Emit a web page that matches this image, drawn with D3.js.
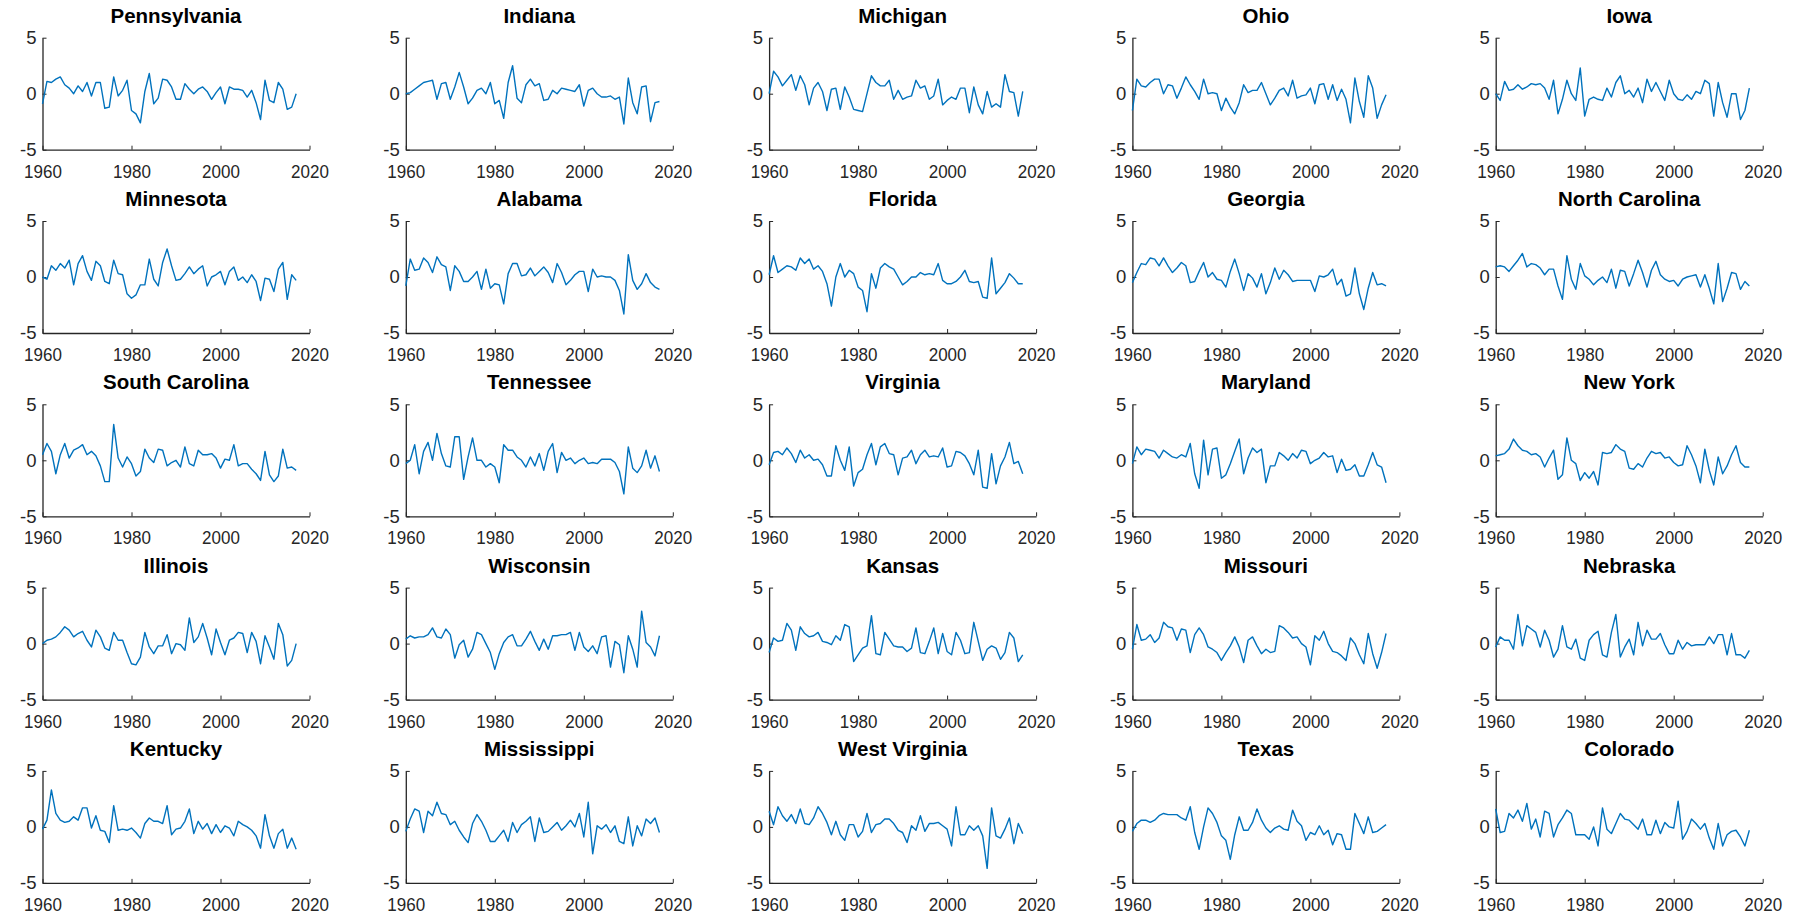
<!DOCTYPE html>
<html>
    <head>
        <meta charset="utf-8">
        <title>State series</title>
        <style>
            body { margin: 0; background: #fff; }
        </style>
    </head>
    <body>
        <svg id="chart"></svg>

        <script src="https://d3js.org/d3.v7.min.js"></script>

        <script>
            // anos: 1960 .. 2017
            const years = d3.range(1960, 2018);
            const xTicks = [1960, 1980, 2000, 2020];
            const yTicks = [-5, 0, 5];

            const states = ["Pennsylvania", "Indiana", "Michigan", "Ohio", "Iowa",
                            "Minnesota", "Alabama", "Florida", "Georgia", "North Carolina",
                            "South Carolina", "Tennessee", "Virginia", "Maryland", "New York",
                            "Illinois", "Wisconsin", "Kansas", "Missouri", "Nebraska",
                            "Kentucky", "Mississippi", "West Virginia", "Texas", "Colorado"];

            const pennsylvania = [-0.9, 1.1, 1.0, 1.3, 1.5, 0.8, 0.5, 0.0, 0.7, 0.2,
                                  1.0, -0.2, 1.0, 1.0, -1.3, -1.2, 1.5, -0.2, 0.3, 1.2,
                                  -1.5, -1.8, -2.6, 0.2, 1.8, -0.9, -0.4, 1.3, 1.2, 0.6,
                                  -0.5, -0.5, 0.9, 0.4, 0.0, 0.4, 0.6, 0.2, -0.5, 0.1,
                                  0.6, -0.9, 0.6, 0.4, 0.4, 0.3, -0.3, 0.3, -0.8, -2.3,
                                  1.2, -0.6, -0.8, 1.0, 0.4, -1.4, -1.2, 0.0];
            const indiana = [0.0, 0.1, 0.4, 0.7, 1.0, 1.1, 1.2, -0.5, 0.9, 1.0,
                             -0.5, 0.6, 1.9, 0.6, -0.9, -0.4, 0.3, 0.5, 0.0, 1.0,
                             -0.9, -0.6, -2.2, 1.0, 2.5, -0.4, -0.8, 0.8, 1.3, 0.7,
                             0.9, -0.6, -0.5, 0.3, 0.0, 0.5, 0.4, 0.3, 0.2, 0.8,
                             -1.1, 0.3, 0.5, 0.0, -0.3, -0.3, -0.2, -0.5, -0.3, -2.7,
                             1.4, -0.8, -1.8, 0.6, 0.7, -2.5, -0.8, -0.7];
            const michigan = [0.0, 2.0, 1.5, 0.7, 1.2, 1.7, 0.3, 1.6, 0.8, -1.0,
                              0.5, 1.0, 0.2, -1.5, 0.4, 0.5, -1.4, 0.6, -0.3, -1.4,
                              -1.5, -1.6, 0.0, 1.6, 1.0, 0.7, 0.7, 1.2, -0.5, 0.3,
                              -0.5, -0.3, -0.2, 1.2, 0.5, 0.7, -0.5, -0.2, 1.3, -1.0,
                              -0.6, -0.3, -0.5, 0.5, 0.5, -1.7, 0.6, -1.0, -1.8, 0.2,
                              -1.2, -0.9, -1.2, 1.7, 0.2, 0.1, -2.0, 0.2];
            const ohio = [-1.5, 1.3, 0.7, 0.6, 1.0, 1.3, 1.3, 0.0, 0.8, 0.7,
                          -0.4, 0.5, 1.5, 0.8, 0.2, -0.5, 1.3, 0.0, 0.1, 0.0,
                          -1.5, -0.4, -1.2, -1.8, -0.8, 0.8, 0.1, 0.3, 0.3, 1.0,
                          0.0, -1.0, -0.4, 0.3, 0.5, -0.2, 1.2, -0.4, -0.2, -0.1,
                          0.5, -0.9, 0.8, 0.9, -0.5, 0.8, -0.6, 0.4, -0.5, -2.6,
                          1.4, -0.7, -2.1, 1.6, 0.5, -2.2, -1.0, -0.1];
            const iowa = [0.0, -0.6, 1.1, 0.3, 0.4, 0.8, 0.4, 0.6, 0.9, 0.8,
                          0.9, 0.5, -0.5, 1.2, -1.8, -0.5, 1.2, 0.0, -0.6, 2.3,
                          -2.0, -0.5, -0.3, -0.5, -0.6, 0.5, -0.3, 1.0, 1.6, 0.0,
                          0.3, -0.3, 0.5, -0.8, 1.3, 0.2, 1.0, 0.2, -0.6, 1.2,
                          0.0, -0.5, -0.6, -0.1, -0.5, 0.2, 0.0, 1.2, 0.9, -2.0,
                          1.0, -0.8, -2.1, 0.0, 0.0, -2.3, -1.5, 0.5];
            const minnesota = [0.0, -0.2, 1.0, 0.6, 1.2, 0.8, 1.5, -0.7, 1.2, 1.9,
                               0.5, -0.3, 1.4, 1.0, -0.4, -0.6, 1.5, 0.3, 0.2, -1.5,
                               -1.9, -1.6, -0.7, -0.7, 1.6, -0.2, -0.8, 1.3, 2.5, 1.0,
                               -0.3, -0.2, 0.3, 0.9, 0.3, 0.7, 1.0, -0.8, 0.0, 0.2,
                               0.5, -0.7, 0.5, 0.9, -0.3, 0.0, -0.5, 0.2, -0.4, -2.1,
                               -0.1, -0.2, -1.3, 0.7, 1.3, -2.0, 0.2, -0.3];
            const alabama = [-0.8, 1.6, 0.6, 0.7, 1.7, 1.3, 0.4, 1.8, 1.1, 0.9,
                             -1.2, 1.0, 0.5, -0.4, -0.4, 0.0, 0.5, -1.1, 0.7, -1.0,
                             -0.6, -0.7, -2.4, 0.3, 1.2, 1.2, 0.1, 0.2, 0.8, 0.1,
                             0.5, 0.9, 0.4, -0.5, 1.2, 0.4, -0.7, -0.3, 0.2, 0.5,
                             0.5, -1.3, 0.7, 0.0, 0.1, 0.0, 0.0, -0.3, -1.2, -3.3,
                             2.0, -0.3, -1.1, -0.6, 0.3, -0.5, -0.9, -1.1];
            const florida = [0.2, 1.9, 0.4, 0.7, 1.0, 0.9, 0.6, 1.7, 1.2, 1.6,
                             0.7, 1.0, 0.5, -0.6, -2.6, 0.0, 1.2, 0.0, 0.6, 0.3,
                             -0.9, -1.2, -3.1, 0.3, -1.0, 0.8, 1.2, 0.9, 0.7, 0.0,
                             -0.7, -0.4, 0.0, 0.0, 0.4, 0.2, 0.3, 0.2, 1.2, -0.3,
                             -0.6, -0.6, -0.4, 0.0, 0.6, -0.4, -0.5, -0.4, -1.8, -1.9,
                             1.7, -1.5, -1.0, -0.5, 0.3, -0.1, -0.6, -0.6];
            const georgia = [-0.5, 0.4, 1.2, 1.1, 1.7, 1.6, 1.0, 1.7, 1.0, 0.4,
                             0.8, 1.3, 1.0, -0.5, -0.4, 0.5, 1.3, 0.0, 0.4, -0.2,
                             -0.3, -0.9, 0.5, 1.6, 0.3, -1.2, 0.3, -0.1, -0.9, 0.3,
                             -1.5, -0.5, 0.8, -0.2, 0.6, 0.2, -0.4, -0.3, -0.3, -0.3,
                             -0.3, -1.3, 0.1, 0.0, 0.2, 0.7, -0.7, -0.2, -1.7, -1.5,
                             0.8, -1.5, -2.9, -1.0, 0.4, -0.7, -0.6, -0.8];
            const northCarolina = [0.9, 1.0, 0.9, 0.5, 1.0, 1.5, 2.1, 0.9, 1.2, 1.1,
                                   0.8, 0.2, 0.7, 0.7, -0.8, -2.0, 1.9, -0.2, -1.1, 1.2,
                                   0.1, -0.2, -0.7, -0.3, 0.0, -0.5, 0.7, -1.0, 0.6, 0.5,
                                   -0.8, 0.3, 1.5, 0.4, -0.9, 0.6, 1.4, 0.2, -0.2, -0.4,
                                   -0.3, -0.8, -0.2, 0.0, 0.1, 0.2, -0.9, 0.2, -1.0, -2.4,
                                   1.2, -2.2, -1.0, 0.4, 0.3, -1.1, -0.4, -0.8];
            const southCarolina = [0.5, 1.5, 0.8, -1.2, 0.5, 1.5, 0.2, 0.9, 1.1, 1.4,
                                   0.5, 0.8, 0.4, -0.5, -1.9, -1.9, 3.2, 0.2, -0.6, 0.3,
                                   -0.3, -1.4, -1.0, 1.0, 0.2, -0.2, 1.0, 0.9, -0.5, -0.2,
                                   0.0, -0.6, 1.2, -0.3, -0.5, 0.9, 0.5, 0.5, 0.6, 0.2,
                                   -0.7, 0.1, 0.0, 1.4, -0.5, -0.3, -0.3, -0.8, -1.2, -1.8,
                                   0.8, -1.3, -1.9, -1.4, 1.0, -0.7, -0.6, -0.9];
            const tennessee = [-0.3, 0.0, 1.4, -1.2, 0.8, 1.6, 0.0, 2.4, 0.6, -0.5,
                               -0.6, 2.1, 2.1, -1.7, 0.3, 2.0, 0.0, 0.0, -0.6, -0.3,
                               -0.6, -2.0, 1.4, 0.9, 0.9, 0.3, 0.0, -0.6, 0.3, -0.5,
                               0.6, -0.9, 0.8, 1.5, -1.1, 0.7, 0.0, 0.2, -0.3, 0.0,
                               0.2, -0.3, -0.2, -0.3, 0.1, 0.1, 0.1, -0.2, -1.0, -3.0,
                               1.2, -0.7, -1.1, -0.5, 0.9, -0.7, 0.4, -1.0];
            const virginia = [-0.4, 0.7, 0.8, 0.5, 1.1, 0.6, -0.2, 0.9, 0.2, 0.5,
                              0.0, 0.1, -0.4, -1.4, -1.4, 1.3, 0.0, -0.9, 1.2, -2.3,
                              -1.1, -0.8, 0.5, 1.5, -0.4, 1.2, 1.5, 0.6, 0.5, -1.3,
                              0.2, 0.3, 0.9, -0.3, 0.5, 0.9, 0.3, 0.4, 0.3, 1.1,
                              -0.6, -0.5, 0.8, 0.7, 0.4, -0.3, -1.3, 0.9, -2.4, -2.5,
                              0.6, -2.1, -0.5, 0.3, 1.6, -0.3, -0.1, -1.2];
            const maryland = [-0.3, 1.2, 0.5, 1.0, 0.9, 0.8, 0.2, 0.9, 0.6, 0.3,
                              0.2, 0.5, 0.3, 1.5, -1.2, -2.5, 1.8, -1.3, 1.0, 1.1,
                              -1.6, -1.3, -0.3, 0.8, 1.9, -1.2, 0.2, 1.1, 0.7, 1.0,
                              -2.0, -0.5, -0.5, 0.7, 0.4, 0.0, 0.6, 0.2, 0.9, 0.8,
                              -0.3, 0.0, 0.2, 0.7, 0.3, 0.4, -1.1, 0.1, -0.9, -0.8,
                              -0.4, -1.4, -1.4, -0.4, 0.7, -0.4, -0.6, -2.0];
            const newYork = [0.4, 0.5, 0.6, 1.0, 1.9, 1.3, 0.9, 0.8, 0.5, 0.6,
                             0.3, -0.6, 0.2, 0.9, -1.7, -1.3, 2.0, 0.0, -0.3, -1.8,
                             -1.1, -1.6, -1.0, -2.2, 0.7, 0.6, 0.7, 1.4, 1.0, 0.8,
                             -0.7, -0.8, -0.3, -0.6, 0.2, 0.8, 0.6, 0.7, 0.2, 0.3,
                             -0.2, -0.5, -0.4, 1.3, 0.5, -0.5, -2.0, 1.0, -0.9, -2.2,
                             0.3, -1.2, -0.5, 0.5, 1.3, -0.2, -0.6, -0.6];
            const illinois = [0.0, 0.3, 0.4, 0.6, 1.0, 1.5, 1.2, 0.6, 0.9, 1.1,
                              0.3, -0.3, 1.2, 0.6, -0.4, -0.6, 1.0, 0.3, 0.3, -0.8,
                              -1.8, -1.9, -1.2, 1.0, -0.3, -0.9, -0.2, -0.2, 0.8, -0.9,
                              0.0, -0.1, -0.6, 2.3, 0.1, 0.6, 1.8, 0.5, -1.0, 1.3,
                              0.1, -1.0, 0.3, 0.5, 1.0, 0.9, -0.8, 1.0, 0.2, -1.8,
                              0.7, -0.3, -1.4, 1.8, 0.8, -2.0, -1.5, 0.0];
            const wisconsin = [0.4, 0.7, 0.5, 0.6, 0.6, 0.8, 1.4, 0.6, 0.5, 1.3,
                               0.8, -1.3, -0.1, 0.3, -1.2, -0.5, 1.0, 0.8, 0.0, -0.8,
                               -2.3, -0.9, 0.1, 0.6, 0.8, -0.2, -0.2, 0.4, 1.1, 0.2,
                               -0.6, 0.4, -0.5, 0.7, 0.7, 0.8, 0.8, 1.0, -0.6, 1.0,
                               -0.3, -0.7, -0.2, -0.9, 0.6, 0.7, -2.1, 0.2, -0.1, -2.6,
                               0.7, -0.5, -2.1, 2.9, 0.1, -0.3, -1.1, 0.7];
            const kansas = [-0.8, 0.5, 0.2, 0.3, 1.8, 1.2, -0.6, 1.5, 0.9, 0.6,
                            0.7, 1.0, 0.2, 0.1, -0.1, 0.7, 0.3, 1.7, 1.5, -1.6,
                            -1.0, -0.4, -0.2, 2.5, -0.9, -1.0, 1.0, 0.4, -0.2, -0.3,
                            -0.3, -0.7, -0.4, 1.4, -0.8, -0.9, 0.2, 1.4, -0.9, 0.9,
                            -0.7, -1.0, 1.0, 0.3, -0.9, -0.8, 1.9, 0.2, -1.5, -0.5,
                            -0.2, -0.4, -1.4, -0.8, 1.0, 0.5, -1.6, -1.0];
            const missouri = [-0.5, 1.7, 0.3, 0.4, 0.8, 0.1, 0.5, 1.9, 1.5, 1.4,
                              0.3, 1.3, 1.2, -0.8, 0.8, 1.4, 0.8, -0.3, -0.5, -0.8,
                              -1.5, -0.8, -0.2, 0.6, -0.3, -1.7, 0.3, 0.6, -0.2, -0.9,
                              -0.5, -0.8, -0.7, 1.6, 1.4, 1.0, 0.5, 0.6, 0.0, -0.3,
                              -1.9, 0.7, 0.3, 1.1, 0.0, -0.7, -0.8, -1.1, -1.5, 0.5,
                              0.0, -1.0, -1.8, 0.9, -0.9, -2.2, -0.8, 0.9];
            const nebraska = [-0.3, 0.6, 0.3, 0.3, -0.5, 2.6, -0.2, 1.6, 1.3, 1.0,
                              -0.3, 1.2, 0.3, -1.2, -0.5, 1.6, -0.3, -0.5, 0.4, -1.3,
                              -1.5, 0.3, 0.8, 1.1, -1.0, -1.2, 1.0, 2.6, -1.2, -0.3,
                              0.4, -1.0, 1.9, -0.2, 1.2, 0.4, 0.4, 0.9, -0.1, -0.9,
                              -0.9, 0.3, -0.5, 0.1, -0.2, -0.1, -0.1, -0.1, 0.6, 0.0,
                              0.8, 0.8, -1.0, 0.9, -1.0, -1.0, -1.3, -0.6];
            const kentucky = [-0.2, 0.6, 3.3, 1.2, 0.6, 0.4, 0.5, 0.9, 0.6, 1.7,
                              1.7, -0.1, 1.0, -0.3, -0.4, -1.4, 1.9, -0.3, -0.2, -0.3,
                              -0.1, -0.5, -1.0, 0.3, 0.8, 0.5, 0.5, 0.3, 1.9, -0.7,
                              -0.2, -0.1, 0.5, 1.6, -0.6, 0.5, -0.2, 0.3, -0.6, 0.2,
                              -0.5, 0.1, -0.1, -0.8, 0.5, 0.2, 0.0, -0.3, -0.8, -1.9,
                              1.1, -0.8, -1.9, -0.6, -0.2, -1.9, -1.0, -2.0];
            const mississippi = [-0.4, 0.7, 1.6, 1.4, -0.5, 1.4, 1.0, 2.2, 1.2, 1.1,
                                 0.2, 0.5, -0.3, -0.9, -1.4, 0.3, 1.1, 0.5, -0.3, -1.3,
                                 -1.3, -0.8, -0.3, -1.3, 0.4, -0.5, 0.2, 0.5, 0.9, -1.3,
                                 0.8, -0.5, -0.4, 0.0, 0.4, -0.3, 0.1, 0.6, 0.0, 1.2,
                                 -0.9, 2.2, -2.4, 0.1, -0.2, 0.2, -0.5, 0.1, -1.3, -1.5,
                                 0.9, -1.7, 0.1, -0.8, 0.7, 0.3, 0.8, -0.5];
            const westVirginia = [1.4, 0.2, 1.8, 1.0, 0.5, 1.1, 0.3, 1.6, 0.3, 0.2,
                                  0.8, 1.8, 1.2, 0.4, -0.7, 0.5, -0.7, -1.2, 0.2, 0.2,
                                  -0.9, -0.4, 1.2, -0.5, 0.2, 0.3, 0.7, 0.7, 0.3, -0.3,
                                  -0.5, -1.4, 0.1, -0.3, 1.0, -0.4, 0.3, 0.3, 0.4, 0.1,
                                  -0.2, -1.7, 1.8, -0.7, -0.7, 0.1, -0.3, 0.1, -0.8, -3.7,
                                  1.7, -0.8, -1.0, -0.2, 0.8, -1.5, 0.3, -0.6];
            const texas = [-0.4, 0.3, 0.6, 0.6, 0.4, 0.6, 1.0, 1.2, 1.1, 1.1,
                           1.1, 0.8, 0.6, 1.8, -0.5, -2.0, 0.0, 1.7, 1.2, 0.4,
                           -0.8, -1.2, -2.9, -0.7, 0.9, -0.3, -0.3, 0.4, 1.6, 0.6,
                           -0.1, -0.5, -0.1, 0.1, -0.2, -0.3, 1.5, 0.5, 0.1, -1.2,
                           -0.5, -0.7, 0.1, -0.7, -0.3, -1.6, -0.6, -0.7, -2.0, -2.0,
                           1.2, 0.3, -0.6, 0.9, -0.5, -0.4, -0.1, 0.2];
            const colorado = [1.6, -0.5, -0.4, 1.2, 0.8, 1.5, 0.5, 2.1, -0.2, 0.7,
                              -0.9, 1.4, 1.2, -0.9, 0.2, 0.8, 1.5, 1.2, -0.7, -0.7,
                              -0.7, -1.1, 0.0, -1.7, 1.7, -0.2, -0.6, 0.3, 1.2, 0.7,
                              0.6, 0.2, -0.2, 0.7, -0.7, -0.7, 0.6, -0.6, 0.4, 0.0,
                              -0.1, 2.3, -1.1, -0.4, 0.7, 0.3, -0.2, 0.3, -1.0, -2.0,
                              0.3, -1.7, -0.7, -0.4, -0.3, -0.9, -1.7, -0.3];

            const values = [pennsylvania, indiana, michigan, ohio, iowa,
                            minnesota, alabama, florida, georgia, northCarolina,
                            southCarolina, tennessee, virginia, maryland, newYork,
                            illinois, wisconsin, kansas, missouri, nebraska,
                            kentucky, mississippi, westVirginia, texas, colorado];

            const W = 1803, H = 921;
            const colStep = 363.3, rowStep = 183.3;
            const left0 = 42.5, top0 = 37.7;
            const w = 267, h = 112;
            const axisColor = "#262626";
            const lineColor = "#0072bd";

            const svg = d3.select("#chart")
                .attr("width", W)
                .attr("height", H)
                .style("font-family", "'Liberation Sans', Arial, sans-serif");

            const x = d3.scaleLinear().domain([1960, 2020]).range([0, w]);
            const y = d3.scaleLinear().domain([-5, 5]).range([h, 0]);

            const line = d3.line()
                .x((d, i) => x(years[i]))
                .y(d => y(d));

            states.forEach((name, i) => {
                const col = i % 5, row = Math.floor(i / 5);
                const g = svg.append("g")
                    .attr("transform", `translate(${left0 + col * colStep},${top0 + row * rowStep})`);

                // eixo x
                const gx = g.append("g")
                    .attr("transform", `translate(0,${h})`)
                    .call(d3.axisBottom(x)
                        .tickValues(xTicks)
                        .tickFormat(d => String(d))
                        .tickSizeInner(-4)
                        .tickSizeOuter(0)
                        .tickPadding(15));

                // eixo y (hífen simples, como no original)
                const gy = g.append("g")
                    .call(d3.axisLeft(y)
                        .tickValues(yTicks)
                        .tickFormat(d => String(d))
                        .tickSizeInner(-4)
                        .tickSizeOuter(0)
                        .tickPadding(6));

                [gx, gy].forEach(a => {
                    a.attr("font-family", null).attr("font-size", null);
                    a.select(".domain").attr("stroke", axisColor).attr("stroke-width", 1.3);
                    a.selectAll(".tick line").attr("stroke", axisColor);
                });
                gx.selectAll(".tick text")
                    .attr("fill", axisColor)
                    .attr("transform", "scale(0.92,1)")
                    .style("font-size", "18.5px");
                gy.selectAll(".tick text")
                    .attr("fill", axisColor)
                    .style("font-size", "18.5px");

                g.append("path")
                    .datum(values[i])
                    .attr("fill", "none")
                    .attr("stroke", lineColor)
                    .attr("stroke-width", 1.4)
                    .attr("stroke-linejoin", "round")
                    .attr("d", line);

                g.append("text")
                    .attr("x", w / 2)
                    .attr("y", -15)
                    .attr("text-anchor", "middle")
                    .attr("font-weight", "bold")
                    .style("font-size", "20.5px")
                    .attr("fill", "#000")
                    .text(name);
            });
        </script>
    </body>
</html>
